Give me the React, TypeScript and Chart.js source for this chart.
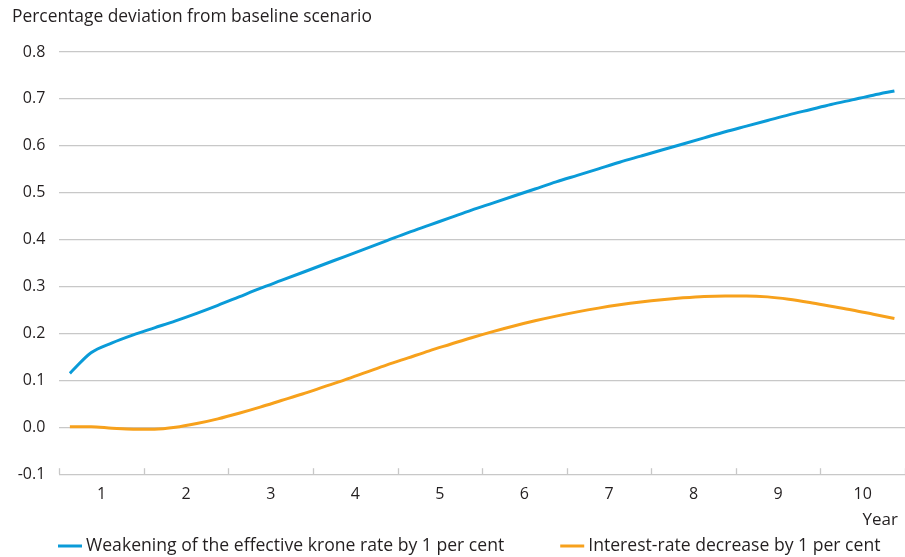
import { useEffect, useRef } from "react";
import { Chart, registerables } from "chart.js";

Chart.register(...registerables);

const titleText = "Percentage deviation from baseline scenario";
const xAxisTitle = "Year";
const yearLabels = ["1", "2", "3", "4", "5", "6", "7", "8", "9", "10"];

const seriesLabels = [
  "Weakening of the effective krone rate by 1 per cent",
  "Interest-rate decrease by 1 per cent",
];

// quarterly values, 40 quarters (10 years)
const weakening = [
  0.115, 0.159, 0.18, 0.197, 0.212, 0.227, 0.243, 0.26, 0.278, 0.296,
  0.313, 0.33, 0.347, 0.364, 0.381, 0.398, 0.415, 0.431, 0.447, 0.463,
  0.478, 0.493, 0.508, 0.523, 0.537, 0.551, 0.565, 0.578, 0.591, 0.604,
  0.617, 0.63, 0.642, 0.654, 0.666, 0.677, 0.688, 0.698, 0.708, 0.717,
];

const interestRate = [
  0.001, 0.001, -0.002, -0.004, -0.004, 0.0, 0.008, 0.018, 0.03, 0.043,
  0.057, 0.071, 0.086, 0.101, 0.117, 0.133, 0.148, 0.163, 0.177, 0.191,
  0.204, 0.216, 0.227, 0.237, 0.246, 0.254, 0.261, 0.267, 0.272, 0.276,
  0.279, 0.28, 0.28, 0.278, 0.273, 0.266, 0.258, 0.25, 0.241, 0.232,
];

const seriesColors = ["#0a9bd8", "#f7a11c"];

const yMin = -0.1;
const yMax = 0.8;
const yStep = 0.1;
const quartersPerYear = 4;

const FONT = "'Open Sans', 'Noto Sans', sans-serif";
const TEXT = "#231f20";
const GRID = "#c8c8c8";

export default function App() {
  const ref = useRef<HTMLCanvasElement | null>(null);

  useEffect(() => {
    if (!ref.current) return;
    const toPoints = (arr: number[]) => arr.map((v, i) => ({ x: i + 0.5, y: v }));
    const nQ = weakening.length;

    const tickMarks = {
      id: "tickMarks",
      afterDatasetsDraw(chart: any) {
        const { ctx, scales, chartArea } = chart;
        const xs = scales.x;
        ctx.save();
        ctx.strokeStyle = GRID;
        ctx.lineWidth = 1.3;
        for (let v = 0; v <= nQ; v += quartersPerYear) {
          const px = Math.round(xs.getPixelForValue(v)) + 0.5;
          ctx.beginPath();
          ctx.moveTo(px, chartArea.bottom - 6);
          ctx.lineTo(px, chartArea.bottom);
          ctx.stroke();
        }
        ctx.restore();
      },
    };

    const texts = {
      id: "texts",
      afterDraw(chart: any) {
        const { ctx, chartArea } = chart;
        ctx.save();
        ctx.fillStyle = TEXT;
        ctx.textBaseline = "middle";
        ctx.textAlign = "left";
        ctx.font = `17.4px ${FONT}`;
        ctx.fillText(titleText, 12, 17);
        ctx.textAlign = "right";
        ctx.font = `17px ${FONT}`;
        ctx.fillText(xAxisTitle, chartArea.right - 7, 520);
        // legend
        ctx.textAlign = "left";
        ctx.font = `17.6px ${FONT}`;
        let x = 58;
        const y = 546;
        chart.data.datasets.forEach((ds: any) => {
          ctx.strokeStyle = ds.borderColor;
          ctx.lineWidth = 3;
          ctx.beginPath();
          ctx.moveTo(x, y);
          ctx.lineTo(x + 24, y);
          ctx.stroke();
          ctx.fillText(ds.label, x + 28, y);
          x += 28 + ctx.measureText(ds.label).width + 56;
        });
        ctx.restore();
      },
    };

    const chart = new Chart(ref.current, {
      type: "line",
      data: {
        datasets: [
          {
            label: seriesLabels[0],
            data: toPoints(weakening),
            borderColor: seriesColors[0],
            borderWidth: 3,
            pointRadius: 0,
            cubicInterpolationMode: "monotone",
          },
          {
            label: seriesLabels[1],
            data: toPoints(interestRate),
            borderColor: seriesColors[1],
            borderWidth: 3,
            pointRadius: 0,
            cubicInterpolationMode: "monotone",
          },
        ],
      },
      options: {
        animation: false,
        responsive: false,
        maintainAspectRatio: false,
        layout: { padding: { left: 12, top: 52, right: 0, bottom: 52.8 } },
        plugins: {
          legend: { display: false },
          title: { display: false },
          tooltip: { enabled: false },
        },
        scales: {
          x: {
            type: "linear",
            min: 0,
            max: nQ,
            border: { display: false },
            grid: { display: false, drawTicks: false },
            afterBuildTicks: (scale: any) => {
              scale.ticks = yearLabels.map((_, i) => ({
                value: i * quartersPerYear + quartersPerYear / 2,
              }));
            },
            afterFit: (scale: any) => {
              scale.height = 30;
            },
            ticks: {
              autoSkip: false,
              maxRotation: 0,
              padding: 11,
              color: TEXT,
              font: { family: FONT, size: 16 },
              callback: (v: any) => {
                const idx = Math.round((Number(v) - quartersPerYear / 2) / quartersPerYear);
                return yearLabels[idx] ?? "";
              },
            },
          },
          y: {
            min: yMin,
            max: yMax,
            border: { display: false },
            grid: { color: GRID, lineWidth: 1.3, drawTicks: false },
            afterFit: (scale: any) => {
              scale.width = 47.3;
            },
            ticks: {
              stepSize: yStep,
              padding: 14,
              color: TEXT,
              font: { family: FONT, size: 16 },
              callback: (v: any) => Number(v).toFixed(1),
            },
          },
        },
      },
      plugins: [tickMarks, texts],
    } as any);

    return () => chart.destroy();
  }, []);

  return (
    <div style={{ position: "fixed", left: 0, top: 0, width: 905, height: 557, background: "#fff" }}>
      <canvas ref={ref} width={905} height={557} style={{ width: 905, height: 557, display: "block" }} />
    </div>
  );
}
